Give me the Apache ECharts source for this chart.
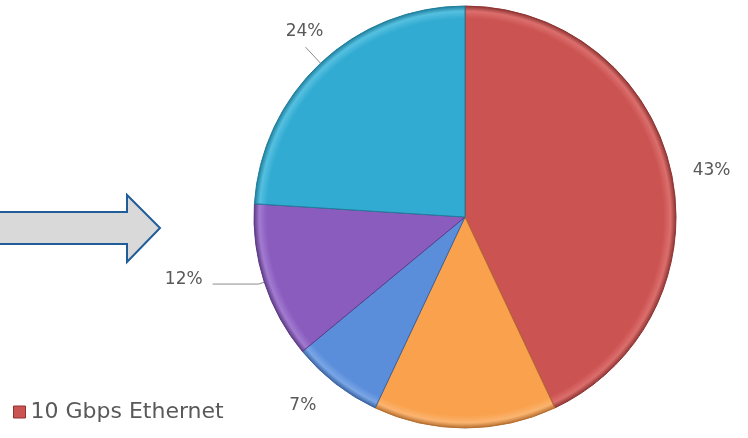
<!DOCTYPE html>
<html>
<head>
<meta charset="utf-8">
<script src="https://cdn.jsdelivr.net/npm/echarts@6/dist/echarts.min.js"></script>
<style>
html,body{margin:0;padding:0;background:#fff;}
#chart{width:748px;height:438px;}
</style>
</head>
<body>
<div id="chart"></div>
<script>
const categories = ['10 Gbps Ethernet', 'Orange segment', 'Blue segment', 'Purple segment', 'Cyan segment'];
const values = [43, 14, 7, 12, 24];
const labels = ['43%', '', '7%', '12%', '24%'];
const colors = ['#CB5351', '#F9A14C', '#5A8DDA', '#8A5CBE', '#32ABD2'];
const lightColors = ['#DB6E6C', '#FBB470', '#7AA6E6', '#A27BD0', '#55C0E0'];
const edgeColors = ['#8E3533', '#B87030', '#3A64A3', '#5E3B86', '#1F7F9C'];
const showLine = [false, false, false, true, true];
const lineLen = [12, 12, 12, 6, 22];
const lineLen2 = [8, 8, 4, 46, 0];
const labelShift = [[-2, 2], [0, 0], [-4, 12], [-6, -4], [22, -16]];

const CX = 465, CY = 217, R = 211;

const chart = echarts.init(document.getElementById('chart'), null, {renderer: 'canvas'});

const data = categories.map((c, i) => ({
  name: c,
  value: values[i],
  itemStyle: {
    color: {
      type: 'radial', x: CX, y: CY, r: R, global: true,
      colorStops: [
        {offset: 0, color: colors[i]},
        {offset: 0.94, color: colors[i]},
        {offset: 0.975, color: lightColors[i]},
        {offset: 1, color: edgeColors[i]}
      ]
    },
    borderColor: edgeColors[i],
    borderWidth: 1
  },
  label: {show: labels[i] !== '', formatter: labels[i]},
  labelLine: {show: showLine[i], length: lineLen[i], length2: lineLen2[i]}
}));

chart.setOption({
  backgroundColor: '#ffffff',
  animation: false,
  legend: {
    data: [{name: categories[0], itemStyle: {color: colors[0], borderColor: edgeColors[0], borderWidth: 1}}],
    left: 8,
    bottom: 10,
    icon: 'rect',
    itemWidth: 12,
    itemHeight: 12,
    itemGap: 6,
    textStyle: {color: '#595959', fontSize: 22, fontFamily: 'DejaVu Sans'}
  },
  graphic: [{
    type: 'polygon',
    shape: {points: [[-2, 212], [127, 212], [127, 195], [160, 228], [127, 262], [127, 244], [-2, 244]]},
    style: {fill: '#D9D9D9', stroke: '#1F5C99', lineWidth: 2}
  }],
  series: [{
    type: 'pie',
    center: [CX, CY],
    radius: R,
    startAngle: 90,
    clockwise: true,
    avoidLabelOverlap: false,
    data: data,
    label: {
      position: 'outside',
      color: '#595959',
      fontSize: 17,
      fontFamily: 'DejaVu Sans',
      distanceToLabelLine: 4
    },
    labelLine: {
      lineStyle: {color: '#8c8c8c', width: 1}
    },
    labelLayout: function (params) {
      const s = labelShift[params.dataIndex];
      return {dx: s[0], dy: s[1]};
    }
  }]
});
</script>
</body>
</html>
